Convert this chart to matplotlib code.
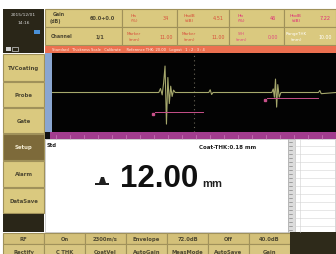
import matplotlib
matplotlib.use('Agg')
import matplotlib.pyplot as plt
from matplotlib.patches import Rectangle, Polygon

# header readings
hdr_labels_top = ['Ha\n(%)', 'HadB\n(dB)', 'Hb\n(%)', 'HbdB\n(dB)']
hdr_values_top = ['34', '4.51', '46', '7.22']
hdr_labels_bot = ['Marker\n(mm)', 'Marker\n(mm)', 'S/H\n(mm)', 'RangeTHK\n(mm)']
hdr_values_bot = ['11.00', '11.00', '0.00', '10.00']
hdr_colors_top = ['#d8503c', '#d8503c', '#e02c78', '#e02c78']
hdr_colors_bot = ['#d8503c', '#d8503c', '#e04c80', '#ffffff']

menu_items = ['TVCoating', 'Probe', 'Gate', 'Setup', 'Alarm', 'DataSave']
soft_values = ['RF', 'On', '2300m/s', 'Envelope', '72.0dB', 'Off', '40.0dB']
soft_names = ['Rectify', 'C_THK', 'CoatVel', 'AutoGain', 'MeasMode', 'AutoSave', 'Gain']

# A-scan trace: x in % of range, y in % amplitude
scan_x = [0, 37.6, 38.2, 38.8, 39.3, 39.8, 40.3, 40.8, 41.3, 41.8, 42.3, 42.8,
          43.4, 55.2, 55.7, 56.2, 56.7, 77.4, 77.9, 78.3, 78.7, 79.1, 79.5,
          80.0, 80.6, 93.8, 94.3, 94.8, 100]
scan_y = [0, 0, 10, -6, 24, 67, -80, 38, -28, 16, -10, 6,
          0, 0, 7, -5, 0, 0, 9, -12, 34, -37, 20, -12,
          0, 0, 5, -3, 0]
gate_start = [36.3, 75.7]
gate_end = [53.2, 93.7]
gate_level = [-49, -14]

thickness = 12.00
coat_thk = 0.18

TAN = '#dac97f'
EDGE = '#a0915a'
TXT = '#4e4832'

fig = plt.figure(figsize=(3.36, 2.55), dpi=100)
ax = fig.add_axes([0, 0, 1, 1])
ax.set_xlim(0, 336)
ax.set_ylim(255, 0)
ax.axis('off')


def box(x0, y0, x1, y1, fc, ec='none', lw=0.6):
    ax.add_patch(Rectangle((x0, y0), x1 - x0, y1 - y0, facecolor=fc,
                           edgecolor=ec, linewidth=lw))


# left status panel
box(3, 10, 44, 54, '#2a2618')
ax.text(23, 15, '2015/12/01', color='#d8d8d8', fontsize=3.2, ha='center', va='center')
ax.text(24, 23, '14:16', color='#d8d8d8', fontsize=3.2, ha='center', va='center')
box(34, 31, 40, 35, '#4a90d8')
box(6, 48, 11, 52, '#d0d0d0')
box(12, 48, 18, 52, 'none', ec='#d0d0d0', lw=0.5)

# header cells
cells = [45, 122, 177, 229, 284, 336]
for r, (y0, y1) in enumerate([(10, 28), (28, 46)]):
    for i in range(5):
        box(cells[i], y0, cells[i + 1], y1, TAN, ec=EDGE, lw=0.8)
ax.text(59, 14, 'Gain', color=TXT, fontsize=3.4, ha='center', va='center', weight='bold')
ax.text(55, 22, '(dB)', color=TXT, fontsize=3.4, ha='center', va='center', weight='bold')
ax.text(102, 19, '60.0+0.0', color=TXT, fontsize=3.6, ha='center', va='center', weight='bold')
ax.text(62, 37, 'Channel', color=TXT, fontsize=3.4, ha='center', va='center', weight='bold')
ax.text(100, 37, '1/1', color=TXT, fontsize=3.6, ha='center', va='center', weight='bold')
for i in range(4):
    xl = cells[i + 1] + 12
    xv = cells[i + 2] - 11
    ax.text(xl, 18.5, hdr_labels_top[i], color=hdr_colors_top[i], fontsize=3.2,
            ha='center', va='center', linespacing=1.6)
    ax.text(xv, 19, hdr_values_top[i], color=hdr_colors_top[i], fontsize=3.6,
            ha='center', va='center')
    ax.text(xl, 37, hdr_labels_bot[i], color=hdr_colors_bot[i], fontsize=3.0,
            ha='center', va='center', linespacing=1.6)
    ax.text(xv, 37.5, hdr_values_bot[i], color=hdr_colors_bot[i], fontsize=3.4,
            ha='center', va='center')

# info strip
box(45, 47, 336, 54, '#ec7050')
ax.text(52, 50.5, 'Standard   Thickness Scale   Calibrate     Reference THK: 20.00   Logout   1 : 2 : 3 : 4',
        color='#fff0e8', fontsize=2.6, ha='left', va='center')

# left menu
menu_rows = [(55, 82), (83, 108), (109, 134), (135, 161), (162, 188), (189, 214)]
for name, (y0, y1) in zip(menu_items, menu_rows):
    sel = name == 'Setup'
    box(3, y0, 44, y1, '#7d6a3a' if sel else TAN, ec=EDGE, lw=0.8)
    ax.text(23.5, (y0 + y1) / 2, name, color='#f2ead0' if sel else TXT, fontsize=3.9,
            ha='center', va='center', weight='bold')
box(3, 215, 44, 233, '#2a2618')

# scope frame
box(45, 54, 52, 133, '#8aa6d0')
box(45, 133, 50, 140, '#101010')
box(50, 133, 336, 140, '#a23c8e')
for tx in range(56, 336, 14):
    ax.plot([tx, tx], [136, 140], color='#d890c8', lw=0.4)

# lower result panel
box(45, 140, 288, 233, '#ffffff', ec='#c8c8c8', lw=0.6)
box(288, 140, 295, 233, '#dcdcdc', ec='#a0a0a0', lw=0.4)
for ty in range(143, 232, 4):
    ax.plot([289, 292 if ty % 8 else 294], [ty, ty], color='#707070', lw=0.4)
box(295, 140, 335, 233, '#ffffff', ec='#c8c8c8', lw=0.5)
ax.plot([300, 300], [140, 233], color='#d0d0d0', lw=0.4)
for ty in range(147, 233, 8):
    ax.plot([295, 335], [ty, ty], color='#d4d4d4', lw=0.4)

ax.text(47, 146, 'Std', color='#202020', fontsize=3.8, ha='left', va='center', weight='bold')
ax.text(228, 148, 'Coat-THK:%.2f mm' % coat_thk, color='#202020', fontsize=4.0,
        ha='center', va='center', weight='bold')
ax.text(120, 187, '%.2f' % thickness, color='#101010', fontsize=22.5, family='Liberation Sans',
        weight='bold', ha='left', va='baseline')
ax.text(202, 187, 'mm', color='#202020', fontsize=8, family='Liberation Sans',
        weight='bold', ha='left', va='baseline')
# thickness probe glyph
ax.add_patch(Polygon([[99, 184], [101, 178], [104, 178], [106, 184]], closed=True,
                     facecolor='#202020', edgecolor='none'))
box(95, 184, 109, 186, '#202020')

# soft keys
for i in range(7):
    x0 = 3 + 41 * i
    box(x0, 234, x0 + 41, 245, '#d3c079', ec=EDGE, lw=0.8)
    box(x0, 245, x0 + 41, 256, '#d8c682', ec=EDGE, lw=0.8)
    ax.text(x0 + 20.5, 239.5, soft_values[i], color=TXT, fontsize=3.8, ha='center',
            va='center', weight='bold')
    ax.text(x0 + 20.5, 252.5, soft_names[i], color=TXT, fontsize=3.8, ha='center',
            va='center', weight='bold')
box(290, 233, 336, 256, '#2e2a1a')

# A-scan
sc = fig.add_axes([52 / 336, (255 - 133) / 255, (336 - 52) / 336, (133 - 54) / 255])
sc.set_facecolor('#030303')
sc.set_xlim(0, 100)
sc.set_ylim(-100, 100)
sc.set_xticks([])
sc.set_yticks([])
for s in sc.spines.values():
    s.set_visible(False)
sc.axvline(50, color='#6a6658', lw=0.8, ls=(0, (1, 3)))
sc.plot(scan_x, scan_y, color='#a6a86c', lw=0.8)
for g0, g1, lv in zip(gate_start, gate_end, gate_level):
    sc.plot([g0, g1], [lv, lv], color='#c8508a', lw=0.7)
    sc.plot([g0 - 0.6], [lv - 6], marker='s', ms=1.6, color='#c8508a')

fig.savefig('out.png', dpi=100)
